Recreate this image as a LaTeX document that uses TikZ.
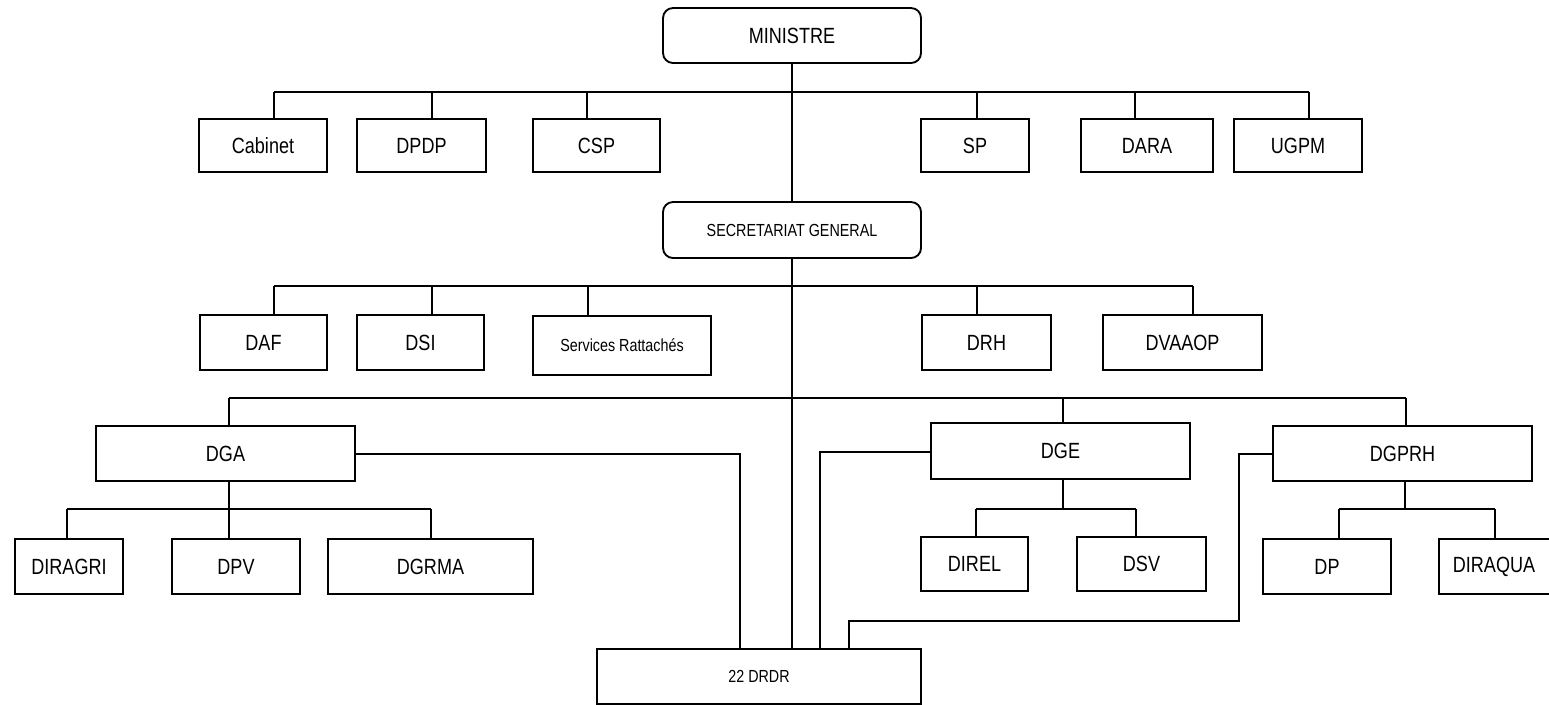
\documentclass[tikz,border=0pt]{standalone}
\usepackage{fontspec}
\setmainfont[FakeStretch=0.82]{Liberation Sans}
\begin{document}
\begin{tikzpicture}[x=0.75pt,y=-0.75pt,line width=1.4pt,
  unit/.style={draw, inner sep=0pt, font=\fontsize{16.5}{18}\selectfont},
  head/.style={unit, rounded corners=7.5pt},
  smalltext/.style={font=\fontsize{13.1}{15}\selectfont},
  % box given by its left, top, right and bottom edges
  span/.style args={#1/#2/#3/#4}{minimum width={(#3-#1)*0.75pt},
    minimum height={(#4-#2)*0.75pt}, at={({(#1+#3)/2},{(#2+#4)/2})}}]
\useasboundingbox (0,0) rectangle (1549,704);

% --- boxes ---
\node[head, span=663/8/921/63] (min) {MINISTRE};
\node[unit, span=199/119/327/172] (cab) {Cabinet};
\node[unit, span=357/119/486/172] (dpdp) {DPDP};
\node[unit, span=533/119/660/172] (csp) {CSP};
\node[unit, span=921/119/1029/172] (sp) {SP};
\node[unit, span=1081/119/1213/172] (dara) {DARA};
\node[unit, span=1234/119/1362/172] (ugpm) {UGPM};

\node[head, smalltext, span=663/202/921/258] (sg) {SECRETARIAT GENERAL};
\node[unit, span=200/315/327/370] (daf) {DAF};
\node[unit, span=357/315/484/370] (dsi) {DSI};
\node[unit, smalltext, span=533/316/711/375] (srv) {Services Rattachés};
\node[unit, span=922/315/1051/370] (drh) {DRH};
\node[unit, span=1103/315/1262/370] (dva) {DVAAOP};

\node[unit, span=96/426/355/481] (dga) {DGA};
\node[unit, span=931/423/1190/479] (dge) {DGE};
\node[unit, span=1273/426/1532/481] (dgprh) {DGPRH};

\node[unit, span=15/539/123/594] (diragri) {DIRAGRI};
\node[unit, span=172/539/300/594] (dpv) {DPV};
\node[unit, span=328/539/533/594] (dgrma) {DGRMA};
\node[unit, span=921/537/1028/591] (direl) {DIREL};
\node[unit, span=1077/537/1206/591] (dsv) {DSV};
\node[unit, span=1263/539/1391/594] (dp) {DP};
\node[unit, span=1439/539/1590/594] (diraqua) {};
\node[font=\fontsize{16.5}{18}\selectfont, inner sep=0pt] (diraquat) at (1494,566.5) {DIRAQUA};
\node[unit, smalltext, span=597/649/921/704] (drdr) {22 DRDR};

% --- main trunk ---
\draw (min.south) -- (sg.north);
\draw (sg.south) -- (sg.south |- drdr.north);

% --- bus under the minister ---
\coordinate (a1) at (274,92);  \coordinate (a2) at (432,92);
\coordinate (a3) at (587,92);  \coordinate (a4) at (977,92);
\coordinate (a5) at (1135,92); \coordinate (a6) at (1309,92);
\draw (a1) -- (a6);
\draw (a1) -- (a1 |- cab.north);
\draw (a2) -- (a2 |- dpdp.north);
\draw (a3) -- (a3 |- csp.north);
\draw (a4) -- (a4 |- sp.north);
\draw (a5) -- (a5 |- dara.north);
\draw (a6) -- (a6 |- ugpm.north);

% --- bus under the general secretariat ---
\coordinate (b1) at (274,286);  \coordinate (b2) at (432,286);
\coordinate (b3) at (588,286);  \coordinate (b4) at (977,286);
\coordinate (b5) at (1193,286);
\draw (b1) -- (b5);
\draw (b1) -- (b1 |- daf.north);
\draw (b2) -- (b2 |- dsi.north);
\draw (b3) -- (b3 |- srv.north);
\draw (b4) -- (b4 |- drh.north);
\draw (b5) -- (b5 |- dva.north);

% --- bus of the general directorates ---
\coordinate (c1) at (229,398); \coordinate (c2) at (1063,398);
\coordinate (c3) at (1406,398);
\draw (c1) -- (c3);
\draw (c1) -- (c1 |- dga.north);
\draw (c2) -- (c2 |- dge.north);
\draw (c3) -- (c3 |- dgprh.north);

% --- DGA directorates ---
\coordinate (d1) at (67,509); \coordinate (d2) at (229,509);
\coordinate (d3) at (431,509);
\draw (d2 |- dga.south) -- (d2);
\draw (d1) -- (d3);
\draw (d1) -- (d1 |- diragri.north);
\draw (d2) -- (d2 |- dpv.north);
\draw (d3) -- (d3 |- dgrma.north);

% --- DGE directorates ---
\coordinate (e1) at (976,509); \coordinate (e2) at (1063,509);
\coordinate (e3) at (1136,509);
\draw (e2 |- dge.south) -- (e2);
\draw (e1) -- (e3);
\draw (e1) -- (e1 |- direl.north);
\draw (e3) -- (e3 |- dsv.north);

% --- DGPRH directorates ---
\coordinate (f1) at (1339,509); \coordinate (f2) at (1405,509);
\coordinate (f3) at (1495,509);
\draw (f2 |- dgprh.south) -- (f2);
\draw (f1) -- (f3);
\draw (f1) -- (f1 |- dp.north);
\draw (f3) -- (f3 |- diraqua.north);

% --- links to the regional directorates ---
\coordinate (g1) at (740,454);
\draw (dga.east |- g1) -- (g1) -- (g1 |- drdr.north);
\coordinate (g2) at (820,452);
\draw (dge.west |- g2) -- (g2) -- (g2 |- drdr.north);
\coordinate (g3) at (1239,454);
\coordinate (g4) at (849,621);
\draw (dgprh.west |- g3) -- (g3) -- (g3 |- g4) -- (g4) -- (g4 |- drdr.north);
\end{tikzpicture}
\end{document}
